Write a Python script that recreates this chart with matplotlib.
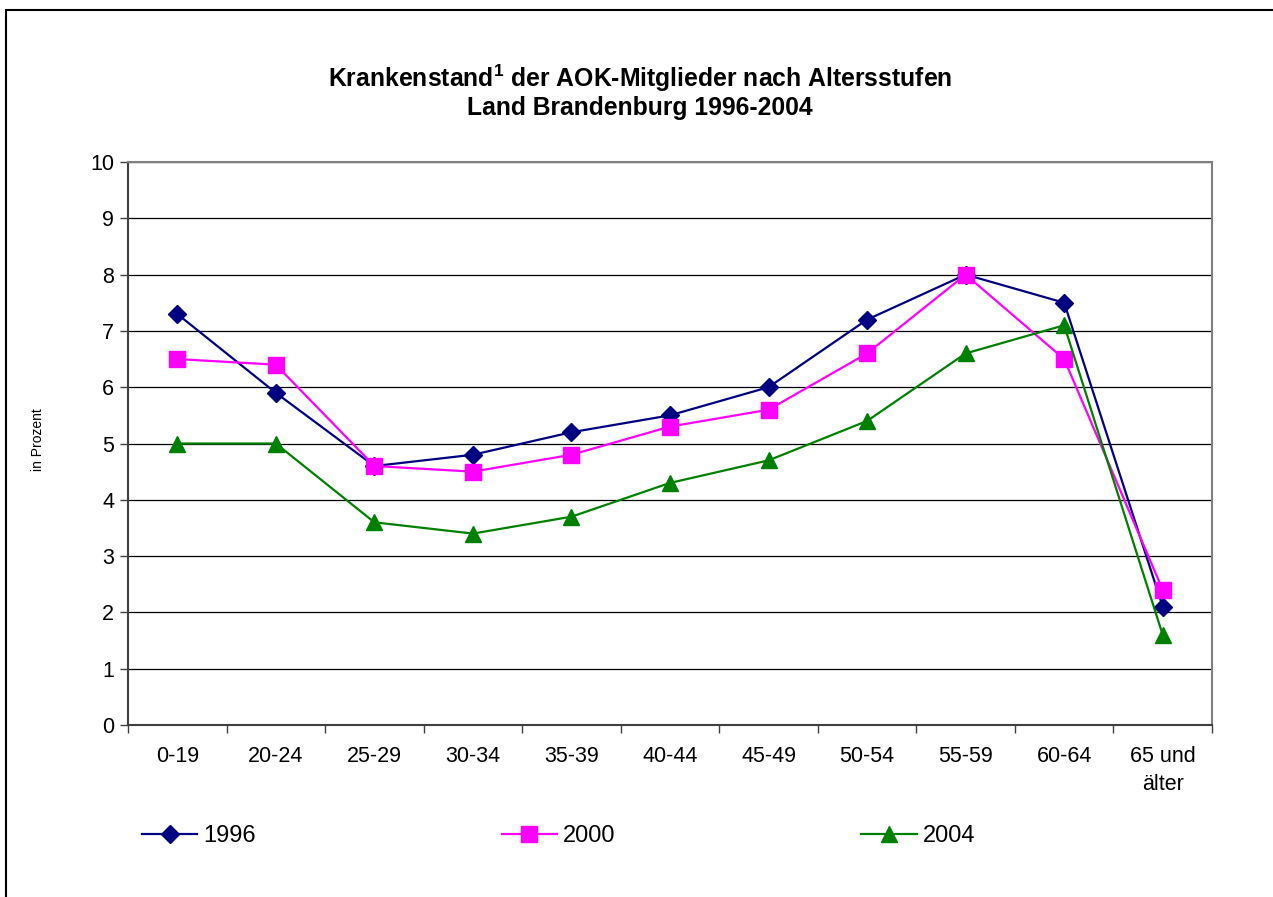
import matplotlib.pyplot as plt
from matplotlib.patches import Rectangle

plt.rcParams['font.family'] = ['Liberation Sans', 'DejaVu Sans']
plt.rcParams['mathtext.fontset'] = 'custom'
plt.rcParams['mathtext.rm'] = 'Liberation Sans'
plt.rcParams['mathtext.bf'] = 'Liberation Sans:bold'

labels = ['0-19', '20-24', '25-29', '30-34', '35-39', '40-44', '45-49',
          '50-54', '55-59', '60-64', '65 und\nälter']
y1996 = [7.3, 5.9, 4.6, 4.8, 5.2, 5.5, 6.0, 7.2, 8.0, 7.5, 2.1]
y2000 = [6.5, 6.4, 4.6, 4.5, 4.8, 5.3, 5.6, 6.6, 8.0, 6.5, 2.4]
y2004 = [5.0, 5.0, 3.6, 3.4, 3.7, 4.3, 4.7, 5.4, 6.6, 7.1, 1.6]

x = list(range(len(labels)))

fig = plt.figure(figsize=(12.73, 8.97), dpi=100)
ax = fig.add_axes([128 / 1273, 1 - 725 / 897, (1212 - 128) / 1273, (725 - 162) / 897])

# outer frame of the chart (cut off at right and bottom)
fig.patches.append(Rectangle((6 / 1273, -0.05), 1.1, 1 - 10 / 897 + 0.05,
                             transform=fig.transFigure, fill=False,
                             edgecolor='black', linewidth=1.5))

ax.plot(x, y1996, color='#000080', marker='D', markersize=9, linewidth=1.6, label='1996')
ax.plot(x, y2000, color='#FF00FF', marker='s', markersize=11, linewidth=1.6, label='2000')
ax.plot(x, y2004, color='#008000', marker='^', markersize=11, linewidth=1.6, label='2004')

ax.set_xlim(-0.5, len(labels) - 0.5)
ax.set_ylim(0, 10)
ax.set_yticks(range(0, 11))
ax.yaxis.grid(True, color='black', linewidth=0.9)
ax.set_axisbelow(True)

ax.set_xticks([i - 0.5 for i in range(len(labels) + 1)])
ax.set_xticklabels([])
ax.set_xticks(x, minor=True)
ax.set_xticklabels(labels, minor=True, fontsize=15.5, linespacing=1.45)
ax.tick_params(axis='x', which='minor', length=0, pad=15)
ax.tick_params(axis='x', which='major', length=6, width=1, color='#404040')
ax.tick_params(axis='y', labelsize=15.5, length=6, width=1, color='#404040', pad=4)

for s in ['left', 'bottom']:
    ax.spines[s].set_color('#404040')
    ax.spines[s].set_linewidth(1.5)
for s in ['top', 'right']:
    ax.spines[s].set_color('#808080')
    ax.spines[s].set_linewidth(1.5)

fig.text(38 / 1273, 1 - 440 / 897, 'in Prozent', rotation=90, fontsize=10,
         ha='center', va='center')

fig.text(640 / 1273, 1 - 78 / 897,
         'Krankenstand$^{\\mathbf{1}}$ der AOK-Mitglieder nach Altersstufen',
         fontsize=17.8, fontweight='bold', ha='center', va='center')
fig.text(640 / 1273, 1 - 108 / 897, 'Land Brandenburg 1996-2004',
         fontsize=17.8, fontweight='bold', ha='center', va='center')

fig.legend(loc='center left', bbox_to_anchor=(142 / 1273, 1 - 836 / 897), ncol=3,
           frameon=False, fontsize=17, handlelength=2.35, handletextpad=0.25,
           columnspacing=10.4, borderpad=0, borderaxespad=0)

fig.savefig('out.png', dpi=100)
